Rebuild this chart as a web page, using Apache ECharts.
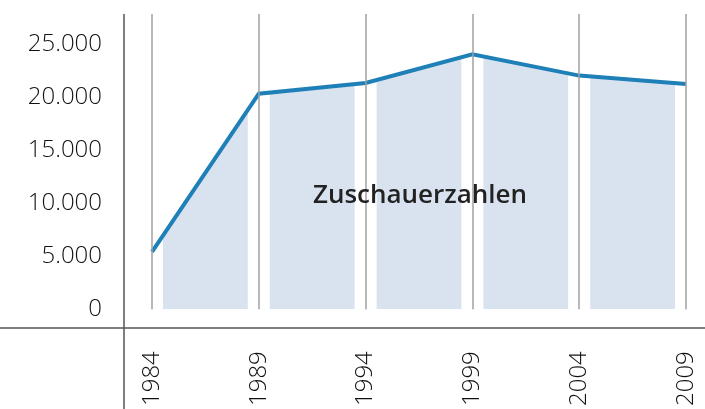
<!DOCTYPE html>
<html>
<head>
<meta charset="utf-8">
<script src="https://cdn.jsdelivr.net/npm/echarts@6/dist/echarts.min.js"></script>
<style>html,body{margin:0;padding:0;background:#fff}#c{width:705px;height:409px}</style>
</head>
<body>
<div id="c"></div>
<script>
var years = ['1984', '1989', '1994', '1999', '2004', '2009'];
var viewers = [5400, 20300, 21300, 24000, 22000, 21200];
var yMin = 0, yMax = 27800, yStep = 5000;
var seriesLabel = 'Zuschauerzahlen';

var gapCover = years.map(function () { return yMax; });
function fmt(v) { return String(v).replace(/\B(?=(\d{3})+(?!\d))/g, '.'); }

var chart = echarts.init(document.getElementById('c'), null, { renderer: 'canvas' });
var GL = 152, GR = 19, GT = 14, GB = 99.5;
var AXY = 328, AXX = 124;
chart.setOption({
  animation: false,
  backgroundColor: '#fff',
  textStyle: { fontFamily: 'Open Sans' },
  grid: { left: GL, right: GR, top: GT, bottom: GB, containLabel: false },
  xAxis: {
    type: 'category', data: years, boundaryGap: false,
    axisLine: { show: false }, axisTick: { show: false }, splitLine: { show: false },
    axisLabel: { rotate: 90, margin: 42, fontSize: 24, color: '#111', fontWeight: 300, fontFamily: 'Open Sans' }
  },
  yAxis: {
    type: 'value', min: yMin, max: yMax, interval: yStep,
    axisLine: { show: false }, axisTick: { show: false }, splitLine: { show: false },
    axisLabel: { margin: 50, fontSize: 24, color: '#111', fontWeight: 300, fontFamily: 'Open Sans', showMaxLabel: false, formatter: fmt }
  },
  series: [
    {
      type: 'line', data: viewers, symbol: 'none', z: 1,
      lineStyle: { width: 0, opacity: 0 },
      areaStyle: { color: '#d9e3f0', opacity: 1 }
    },
    {
      type: 'bar', data: gapCover, barWidth: 22, z: 2, silent: true,
      itemStyle: { color: '#ffffff' },
      markLine: {
        silent: true, symbol: 'none', label: { show: false },
        lineStyle: { color: '#a0a0a0', width: 1.5, type: 'solid' },
        data: years.map(function (y) { return { xAxis: y }; })
      }
    },
    {
      type: 'line', data: viewers, symbol: 'none', z: 3,
      lineStyle: { width: 4, color: '#1f80b8', join: 'miter' }
    }
  ],
  graphic: [
    { type: 'line', z: 10, shape: { x1: 0, y1: AXY, x2: 705, y2: AXY }, style: { stroke: '#555', lineWidth: 1.5 } },
    { type: 'line', z: 10, shape: { x1: AXX, y1: GT, x2: AXX, y2: 409 }, style: { stroke: '#555', lineWidth: 1.5 } },
    { type: 'text', z: 20, x: 420, y: 196, style: { text: seriesLabel, align: 'center', verticalAlign: 'middle', fontSize: 26, fontWeight: 600, fontFamily: 'Open Sans', fill: '#222' } }
  ]
});
</script>
</body>
</html>
